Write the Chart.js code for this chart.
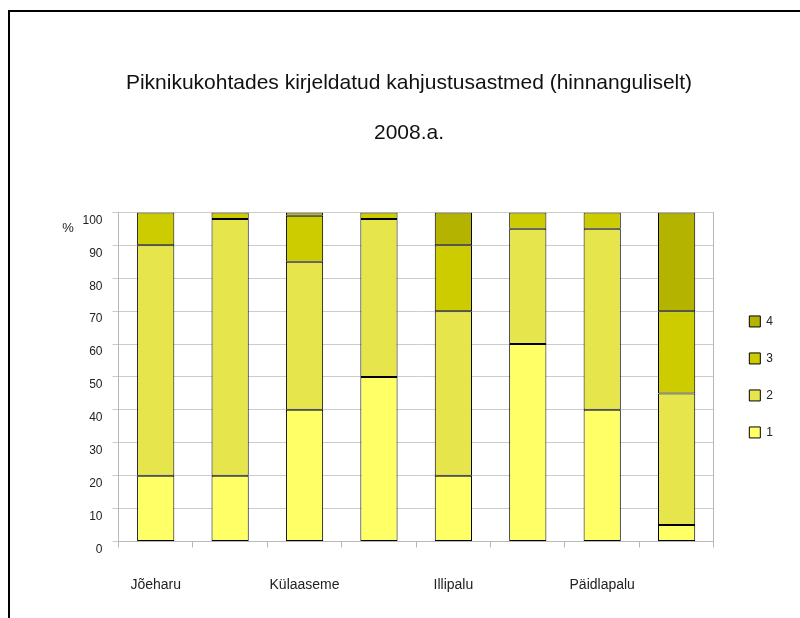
<!DOCTYPE html>
<html>
<head>
<meta charset="utf-8">
<script src="https://cdn.jsdelivr.net/npm/chart.js@4"></script>
<style>
    html, body { margin: 0; padding: 0; background: #fff; }
    #frame {
        position: absolute; left: 8px; top: 10px;
        width: 792px; height: 608px;
        border-top: 2px solid #000; border-left: 2px solid #000;
        box-sizing: border-box;
    }
    #damageChart { display: block; }
</style>
</head>
<body>
<div id="frame">
    <canvas id="damageChart" width="790" height="606"></canvas>
</div>
<script>
// sites (only every other one carries a name on the axis)
const sites = ['Jõeharu', '', 'Külaaseme', '', 'Illipalu', '', 'Päidlapalu', ''];
const levels = ['1', '2', '3', '4'];

// share of each damage level per site, %
const level1 = [20, 20, 40, 50, 20, 60, 40, 5];
const level2 = [70, 78, 45, 48, 50, 35, 55, 40];
const level3 = [10, 2, 14, 2, 20, 5, 5, 25];
const level4 = [0, 0, 1, 0, 10, 0, 0, 30];

const yTicks = [0, 10, 20, 30, 40, 50, 60, 70, 80, 90, 100];

const fills = ['#ffff66', '#e6e64c', '#cccc00', '#b3b300'];
const FONT = "'Liberation Sans', Arial, sans-serif";

// "%" sits left of the top tick label
const percentSign = {
    id: 'percentSign',
    afterDraw(chart) {
        const y = chart.scales.y;
        const ctx = chart.ctx;
        ctx.save();
        ctx.font = `13px ${FONT}`;
        ctx.fillStyle = '#222';
        ctx.textAlign = 'center';
        ctx.textBaseline = 'middle';
        ctx.fillText('%', 58, y.getPixelForValue(100) + 16);
        ctx.restore();
    }
};

const datasets = [level1, level2, level3, level4].map((vals, i) => ({
    label: levels[i],
    data: vals,
    backgroundColor: fills[i],
    borderColor: '#000',
    borderWidth: 1,
    borderSkipped: false,
    barPercentage: 0.5,
    categoryPercentage: 1.0,
}));

new Chart(document.getElementById('damageChart'), {
    type: 'bar',
    data: { labels: sites, datasets },
    plugins: [percentSign],
    options: {
        responsive: false,
        animation: false,
        layout: { padding: { left: 25, right: 17, top: 0, bottom: 0 } },
        plugins: {
            title: {
                display: true,
                text: 'Piknikukohtades kirjeldatud kahjustusastmed (hinnanguliselt)',
                color: '#111',
                font: { family: FONT, size: 21, weight: 'normal' },
                padding: { top: 59, bottom: 14 }
            },
            subtitle: {
                display: true,
                text: '2008.a.',
                color: '#111',
                font: { family: FONT, size: 21, weight: 'normal' },
                padding: { top: 10, bottom: 67 }
            },
            legend: {
                position: 'right',
                fullSize: false,
                reverse: true,
                labels: {
                    color: '#222',
                    boxWidth: 11,
                    boxHeight: 11,
                    padding: 25,
                    font: { family: FONT, size: 12 }
                }
            },
            tooltip: { enabled: false }
        },
        scales: {
            x: {
                stacked: true,
                grid: { drawOnChartArea: false, color: '#b8b8b8', tickLength: 6 },
                border: { color: '#b8b8b8' },
                afterFit: s => { s.height = 76.5; },
                ticks: {
                    autoSkip: false,
                    maxRotation: 0,
                    padding: 29.5,
                    color: '#222',
                    font: { family: FONT, size: 14 }
                }
            },
            y: {
                stacked: true,
                min: 0,
                max: 100,
                afterBuildTicks: s => { s.ticks = yTicks.map(v => ({ value: v })); },
                afterFit: s => { s.width = 83.5; },
                grid: { color: '#cccccc', tickLength: 6 },
                border: { color: '#b8b8b8' },
                ticks: {
                    padding: 10,
                    labelOffset: 8,
                    color: '#222',
                    font: { family: FONT, size: 12 }
                }
            },
            yRight: {
                position: 'right',
                min: 0,
                max: 100,
                grid: { display: false },
                border: { color: '#b8b8b8' },
                ticks: { display: false },
                afterFit: s => { s.width = 10.5; }
            }
        }
    }
});
</script>
</body>
</html>
